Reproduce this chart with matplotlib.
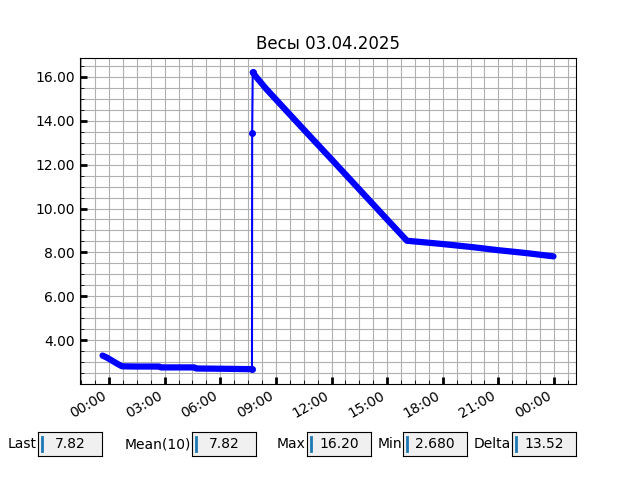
import datetime as dt
import matplotlib
matplotlib.use('Agg')
import matplotlib.pyplot as plt
import matplotlib.dates as mdates
from matplotlib.ticker import AutoMinorLocator, FormatStrFormatter

title = 'Весы 03.04.2025'
day = dt.datetime(2025, 4, 3)

# readings before loading (hours from midnight, kg)
hours_before = [-0.35, -0.1, 0.2, 0.5, 0.7, 1.5, 2.7, 2.8, 4.6, 4.7, 6.0, 7.71]
weight_before = [3.30, 3.20, 3.05, 2.90, 2.81, 2.80, 2.80, 2.76, 2.76, 2.71, 2.70, 2.68]

# single reading during the jump
hours_jump = [7.71, 7.72, 7.75]
weight_jump = [2.68, 13.45, 16.20]

# readings after loading
hours_after = [7.75, 8.0, 8.5, 9.0, 10.5, 12.0, 13.5, 15.0, 16.07, 17.0, 18.0, 19.5, 21.0, 22.5, 23.97]
weight_after = [16.20, 15.93, 15.43, 14.97, 13.60, 12.24, 10.87, 9.50, 8.53, 8.46, 8.38, 8.25, 8.10, 7.97, 7.82]

# status boxes
box_labels = ['Last', 'Mean(10)', 'Max', 'Min', 'Delta']
box_values = ['7.82', '7.82', '16.20', '2.680', '13.52']
box_left = [0.06, 0.30, 0.48, 0.63, 0.80]


def to_dates(hours):
    return [day + dt.timedelta(hours=h) for h in hours]


fig, ax = plt.subplots(figsize=(6.4, 4.8), dpi=100)

ax.plot(to_dates(hours_jump), weight_jump, '.-', color='blue', lw=1.5, ms=8)
ax.plot(to_dates(hours_before), weight_before, '-', color='blue', lw=4.5,
        solid_capstyle='round', solid_joinstyle='round')
ax.plot(to_dates(hours_after), weight_after, '-', color='blue', lw=4.5,
        solid_capstyle='round', solid_joinstyle='round')

ax.set_title(title)
ax.xaxis.set_major_locator(mdates.HourLocator(byhour=range(0, 24, 3)))
ax.xaxis.set_major_formatter(mdates.DateFormatter('%H:%M'))
ax.xaxis.set_minor_locator(AutoMinorLocator(4))
ax.yaxis.set_minor_locator(AutoMinorLocator(4))
ax.yaxis.set_major_formatter(FormatStrFormatter('%.2f'))
ax.tick_params(which='major', direction='in', length=5, width=2)
ax.tick_params(which='minor', direction='in', length=3)
ax.grid(True, which='both', color='#b0b0b0', lw=0.8)
ax.set_axisbelow(True)
fig.autofmt_xdate()

# value boxes at the bottom
for label, value, left in zip(box_labels, box_values, box_left):
    bax = fig.add_axes([left, 0.05, 0.1, 0.05])
    bax.set_facecolor('#f0f0f0')
    bax.set_xticks([])
    bax.set_yticks([])
    bax.set_xlim(0, 1)
    bax.set_ylim(0, 1)
    bax.text(0.5, 0.5, value, ha='center', va='center')
    bax.text(-0.02, 0.5, label, ha='right', va='center', transform=bax.transAxes)
    bax.plot([0.06, 0.06], [0.2, 0.8], color='#1f77b4', lw=2)

fig.savefig('out.png', dpi=100)
